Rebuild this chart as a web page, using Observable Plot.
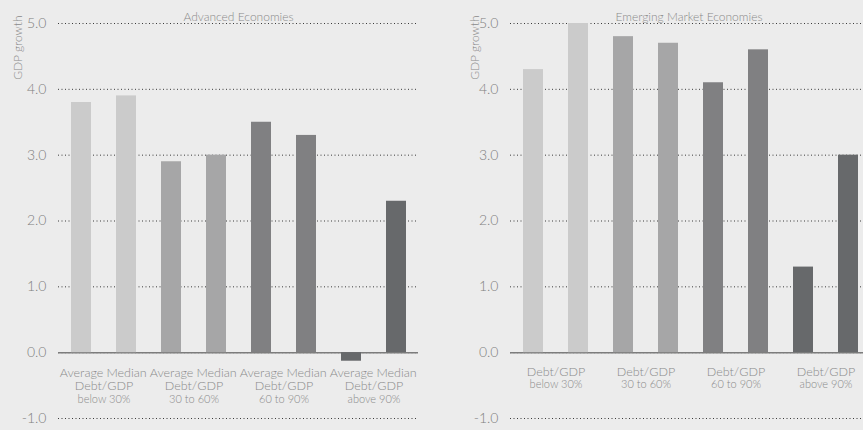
<!DOCTYPE html>
<html>
<head>
<meta charset="utf-8">
<script src="https://cdn.jsdelivr.net/npm/d3@7"></script>
<script src="https://cdn.jsdelivr.net/npm/@observablehq/plot@0.6"></script>
<style>
  html, body { margin: 0; padding: 0; background: #ececec; }
  #wrap { display: flex; width: 863px; height: 430px; overflow: hidden; }
  svg { background: transparent !important; font-family: Lato, "Open Sans", sans-serif; font-weight: 300; }
</style>
</head>
<body>
<div id="wrap"></div>
<script>
const groups = ["below 30%", "30 to 60%", "60 to 90%", "above 90%"];
const stats = ["Average", "Median"];
const advanced = [3.8, 3.9, 2.9, 3.0, 3.5, 3.3, -0.13, 2.3];
const emerging = [4.3, 5.0, 4.8, 4.7, 4.1, 4.6, 1.3, 3.0];
const yTicks = [-1, 0, 1, 2, 3, 4, 5];
const colors = ["#cbcbcb", "#a6a6a7", "#808082", "#67696b"];
const titles = ["Advanced Economies", "Emerging Market Economies"];
const yLabel = "GDP growth";

function rows(values) {
  return values.map((v, i) => ({
    key: groups[Math.floor(i / 2)] + "|" + stats[i % 2],
    group: groups[Math.floor(i / 2)],
    stat: stats[i % 2],
    value: v
  }));
}
const keys = rows(advanced).map(d => d.key);

function panel(values, title, opts) {
  const data = rows(values);
  const groupRows = groups.map(g => ({group: g, key: g + "|" + stats[1]}));
  const marks = [
    Plot.ruleY(yTicks, {stroke: "#3a3a3a", strokeWidth: 1, strokeDasharray: "1,2.5"}),
    Plot.ruleY([0], {stroke: "#7c7c7c", strokeWidth: 1.5}),
    Plot.barY(data, {x: "key", y: "value", fill: "group"}),
    Plot.axisY({ticks: yTicks, tickSize: 0, tickPadding: 12, fontSize: 14, fill: "#7f7f7f",
      tickFormat: d => d.toFixed(1), label: null}),
    Plot.text([title], {frameAnchor: "top", dx: opts.titleDx, dy: -11, fontSize: 12, fill: "#8a8a8a"}),
    Plot.text([yLabel], {frameAnchor: "top-left", dx: opts.labelDx, dy: -8, rotate: -90,
      textAnchor: "end", fontSize: 12, fill: "#8a8a8a"}),
    Plot.text(groupRows, {x: "key", y: 0, dx: -22.5, dy: opts.debtDy, text: () => "Debt/GDP",
      fontSize: 12.5, fill: "#8a8a8a"}),
    Plot.text(groupRows, {x: "key", y: 0, dx: -22.5, dy: opts.groupDy, text: "group",
      fontSize: 11, fill: "#8a8a8a"})
  ];
  if (opts.stats) {
    marks.push(Plot.text(data, {x: "key", y: 0, dy: 20, text: "stat", fontSize: 12.5, fill: "#8a8a8a"}));
  }
  return Plot.plot({
    width: opts.width,
    height: 430,
    marginTop: 23,
    marginBottom: 12,
    marginLeft: opts.marginLeft,
    marginRight: opts.marginRight,
    style: {background: "transparent"},
    x: {domain: keys, range: opts.xRange, paddingInner: 0.556, paddingOuter: 0.278, axis: null},
    y: {domain: [-1, 5], axis: null},
    color: {domain: groups, range: colors},
    marks
  });
}

const wrap = document.getElementById("wrap");
wrap.append(panel(advanced, titles[0], {
  width: 430, marginLeft: 58, marginRight: 12, xRange: [58, 418],
  stats: true, debtDy: 33, groupDy: 47, titleDx: 0, labelDx: -45
}));
wrap.append(panel(emerging, titles[1], {
  width: 433, marginLeft: 80, marginRight: 0, xRange: [80, 440],
  stats: false, debtDy: 19, groupDy: 32, titleDx: 2, labelDx: -40
}));
</script>
</body>
</html>
